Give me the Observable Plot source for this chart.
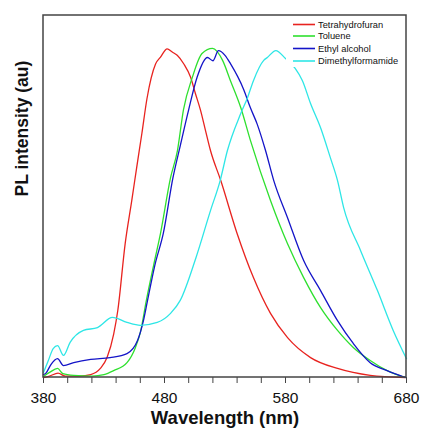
<!DOCTYPE html>
<html>
<head>
<meta charset="utf-8">
<script src="https://cdn.jsdelivr.net/npm/d3@7"></script>
<script src="https://cdn.jsdelivr.net/npm/@observablehq/plot@0.6"></script>
<style>
  html, body { margin: 0; padding: 0; background: #fff; }
  #chart svg { display: block; font-family: "Liberation Sans", Arial, sans-serif; }
</style>
</head>
<body>
<div id="chart"></div>
<script>
// ---- data ----
const seriesNames = ["Tetrahydrofuran", "Toluene", "Ethyl alcohol", "Dimethylformamide"];
const seriesColors = ["#e8231f", "#2ee02e", "#1414c8", "#2ee6e6"];

const thfNm = [380,385,392,398,410,419,427,432.6,438,441.4,447.5,453,457,461.3,465.5,472.6,476.7,482.2,486.4,490.5,496,501.5,505.6,509.8,513.9,518,526.5,540,553.5,567.6,581.7,600.7,623,650,679];
const thfI  = [0,0.004,0.012,0.004,0.004,0.008,0.025,0.056,0.12,0.185,0.37,0.49,0.58,0.674,0.77,0.866,0.885,0.908,0.899,0.89,0.866,0.83,0.784,0.738,0.682,0.627,0.544,0.398,0.276,0.177,0.11,0.055,0.025,0.006,0];

const tolNm = [380,385,391.6,396,405,420,430,438,449,456,460,465,471,476.7,485,490.7,495.7,503,511,519.7,528,534.5,543,551,567.6,581.6,595,609,623,636,650,664,679];
const tolI  = [0.003,0.014,0.025,0.011,0.006,0.004,0.008,0.019,0.041,0.083,0.124,0.213,0.31,0.398,0.552,0.627,0.74,0.829,0.895,0.909,0.876,0.82,0.746,0.655,0.489,0.37,0.276,0.193,0.13,0.083,0.047,0.019,0];

const etoNm = [380,382,386,391.6,396.5,405,419,435,449,457.7,462.6,466,472,479,487,493,500,507,515.5,520,524.6,530,534.5,545.5,551,556.6,563.5,570.3,581.6,595,609,623,636,650,664,679];
const etoI  = [0.008,0.012,0.035,0.052,0.033,0.041,0.05,0.055,0.066,0.102,0.157,0.213,0.31,0.398,0.552,0.64,0.74,0.83,0.884,0.875,0.903,0.89,0.867,0.795,0.745,0.70,0.627,0.544,0.442,0.323,0.24,0.157,0.094,0.041,0.019,0];

const dmfNm = [380,384,388,391.6,396.5,402,413,424.6,437,449,460,474,485,493,506,518,526,532,543,548.6,553.5,562,565,572,580,588,594,600.7,609,617,623,628,642,656,669,680];
const dmfI  = [0.014,0.047,0.08,0.088,0.061,0.097,0.13,0.138,0.166,0.152,0.144,0.152,0.177,0.213,0.331,0.461,0.544,0.627,0.729,0.773,0.82,0.876,0.884,0.903,0.881,0.854,0.82,0.757,0.69,0.608,0.544,0.47,0.351,0.24,0.13,0.052];

const majorTicks = [380, 480, 580, 680];
const minorTicks = d3.range(380, 681, 20);
const xLabel = "Wavelength (nm)";
const yLabel = "PL intensity (au)";

// ---- build table ----
const pairs = [[thfNm, thfI], [tolNm, tolI], [etoNm, etoI], [dmfNm, dmfI]];
const rows = pairs.flatMap(([nm, v], k) => nm.map((x, i) => ({series: seriesNames[k], nm: x, I: v[i]})));

const W = 421, H = 435;
const chart = Plot.plot({
  width: W, height: H,
  marginTop: 15, marginRight: 15, marginBottom: 58, marginLeft: 43,
  style: {background: "#fff", fontFamily: "'Liberation Sans', Arial, sans-serif", color: "#111"},
  x: {domain: [380, 680]},
  y: {domain: [0, 1], axis: null},
  color: {domain: seriesNames, range: seriesColors},
  marks: [
    Plot.line(rows, {x: "nm", y: "I", z: "series", stroke: "series", strokeWidth: 1.3, curve: "monotone-x"}),
    Plot.axisX({ticks: minorTicks, tickSize: 6, text: null, stroke: "#444", label: null}),
    Plot.axisX({ticks: majorTicks, tickSize: 6, tickPadding: 8, fontSize: 15.5, stroke: "#444", fill: "#111", label: null, tickFormat: d3.format("d")}),
    Plot.text([xLabel], {frameAnchor: "bottom", dy: 46, fontSize: 18.5, fontWeight: "bold", fill: "#111"}),
    Plot.text([yLabel], {frameAnchor: "left", dx: -21, rotate: -90, fontSize: 17.5, fontWeight: "bold", fill: "#111"})
  ]
});

// ---- legend (inside frame, top-right) ----
const svg = d3.select(chart);
const xr = chart.scale("x").range, yr = chart.scale("y").range;
const fL = Math.min(...xr), fR = Math.max(...xr), fT = Math.min(...yr), fB = Math.max(...yr);
const lg = svg.append("g").attr("text-anchor", "start");
lg.append("rect")
  .attr("x", fR - 120).attr("y", fT + 1)
  .attr("width", 119).attr("height", 51).attr("fill", "#fff");
const rowY = [24.5, 36, 48.5, 61];
seriesNames.forEach((name, i) => {
  lg.append("line")
    .attr("x1", fR - 113).attr("x2", fR - 91)
    .attr("y1", rowY[i]).attr("y2", rowY[i])
    .attr("stroke", seriesColors[i]).attr("stroke-width", 1.6);
  lg.append("text")
    .attr("x", fR - 88).attr("y", rowY[i]).attr("dy", "0.35em")
    .attr("text-anchor", "start")
    .attr("font-size", 9.3).attr("fill", "#111")
    .text(name);
});

// frame on top
svg.append("rect")
  .attr("x", fL).attr("y", fT)
  .attr("width", fR - fL).attr("height", fB - fT)
  .attr("fill", "none").attr("stroke", "#444").attr("stroke-width", 1.5);

document.getElementById("chart").appendChild(chart);
</script>
</body>
</html>
